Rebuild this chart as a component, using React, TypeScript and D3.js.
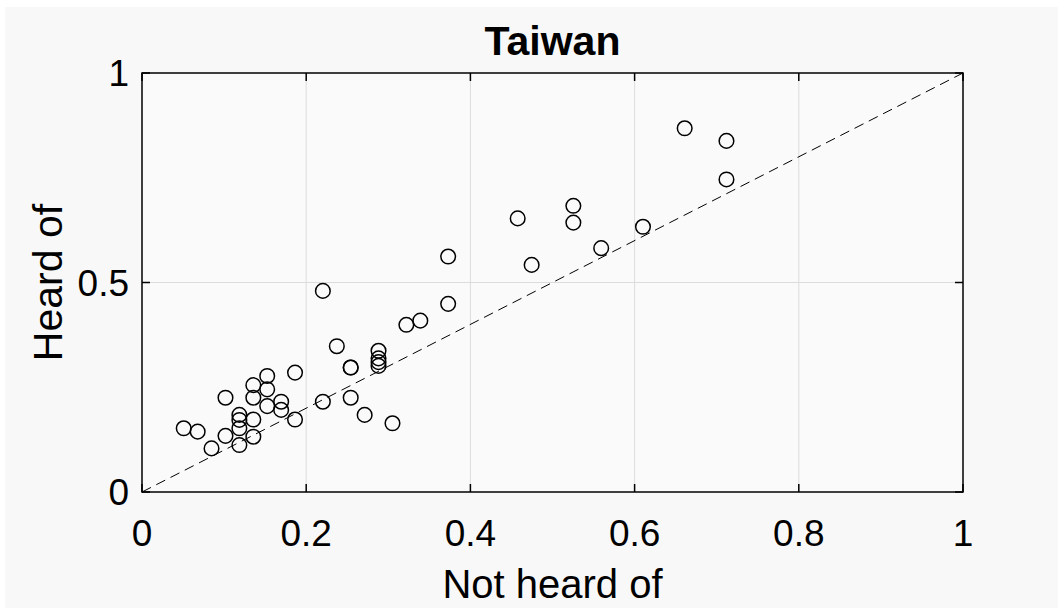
import React from "react";
import * as d3 from "d3";

const notHeard = [
  0.0508, 0.0678, 0.0847, 0.1017, 0.1017, 0.1186, 0.1186, 0.1186, 0.1186,
  0.1356, 0.1356, 0.1356, 0.1356, 0.1525, 0.1525, 0.1525, 0.1695, 0.1695,
  0.1864, 0.1864, 0.2203, 0.2203, 0.2373, 0.2542, 0.2542, 0.2542, 0.2712,
  0.2881, 0.2881, 0.2881, 0.2881, 0.3051, 0.322, 0.339, 0.3729, 0.3729,
  0.4576, 0.4746, 0.5254, 0.5254, 0.5593, 0.6102, 0.661, 0.7119, 0.7119,
];
const heard = [
  0.152, 0.144, 0.104, 0.225, 0.134, 0.184, 0.172, 0.152, 0.112,
  0.255, 0.225, 0.173, 0.132, 0.277, 0.245, 0.205, 0.2155, 0.196,
  0.285, 0.173, 0.2155, 0.48, 0.348, 0.297, 0.297, 0.225, 0.184,
  0.337, 0.319, 0.31, 0.301, 0.164, 0.399, 0.409, 0.562, 0.449,
  0.653, 0.542, 0.683, 0.643, 0.582, 0.633, 0.868, 0.838, 0.746,
];
const xTicks = [0, 0.2, 0.4, 0.6, 0.8, 1];
const yTicks = [0, 0.5, 1];

const W = 1058;
const H = 608;
const L = 142, R = 963, T = 73, B = 492;
const FONT = "'Liberation Sans', Arial, Helvetica, sans-serif";

export default function App() {
  const x = d3.scaleLinear().domain([0, 1]).range([L, R]);
  const y = d3.scaleLinear().domain([0, 1]).range([B, T]);
  const diag = d3.line<number>().x((d) => x(d)).y((d) => y(d))([0, 1]) || "";
  const tickLen = 8;
  return (
    <svg width={W} height={H} style={{ position: "absolute", left: 0, top: 0 }}>
      <rect x={0} y={0} width={W} height={H} fill="#ffffff" />
      <rect x={5} y={7} width={W - 5} height={H - 7} fill="#f8f8f8" />
      <rect x={L} y={T} width={R - L} height={B - T} fill="#fafafa" />
      {xTicks.slice(1, -1).map((t) => (
        <line key={"gx" + t} x1={x(t)} x2={x(t)} y1={T} y2={B} stroke="#dcdcdc" strokeWidth={1} />
      ))}
      {yTicks.slice(1, -1).map((t) => (
        <line key={"gy" + t} x1={L} x2={R} y1={y(t)} y2={y(t)} stroke="#dcdcdc" strokeWidth={1} />
      ))}
      <path d={diag} stroke="#000" strokeWidth={1} strokeDasharray="10,6" fill="none" />
      {notHeard.map((v, i) => (
        <circle key={i} cx={x(v)} cy={y(heard[i])} r={7.3} fill="none" stroke="#000" strokeWidth={1.5} />
      ))}
      <rect x={L} y={T} width={R - L} height={B - T} fill="none" stroke="#000" strokeWidth={1.5} />
      {xTicks.map((t) => (
        <g key={"xt" + t}>
          <line x1={x(t)} x2={x(t)} y1={B} y2={B - tickLen} stroke="#000" strokeWidth={1.5} />
          <line x1={x(t)} x2={x(t)} y1={T} y2={T + tickLen} stroke="#000" strokeWidth={1.5} />
          <text x={x(t)} y={546} textAnchor="middle" fontFamily={FONT} fontSize={37} fill="#000">
            {String(t)}
          </text>
        </g>
      ))}
      {yTicks.map((t) => (
        <g key={"yt" + t}>
          <line x1={L} x2={L + tickLen} y1={y(t)} y2={y(t)} stroke="#000" strokeWidth={1.5} />
          <line x1={R} x2={R - tickLen} y1={y(t)} y2={y(t)} stroke="#000" strokeWidth={1.5} />
          <text x={129} y={y(t) + 13} textAnchor="end" fontFamily={FONT} fontSize={37} fill="#000">
            {String(t)}
          </text>
        </g>
      ))}
      <text x={(L + R) / 2} y={598} textAnchor="middle" fontFamily={FONT} fontSize={40} fill="#000">
        Not heard of
      </text>
      <text
        transform={`translate(62, ${(T + B) / 2}) rotate(-90)`}
        textAnchor="middle"
        fontFamily={FONT}
        fontSize={41}
        fill="#000"
      >
        Heard of
      </text>
      <text x={(L + R) / 2} y={55} textAnchor="middle" fontFamily={FONT} fontSize={41} fontWeight="bold" fill="#000">
        Taiwan
      </text>
    </svg>
  );
}
